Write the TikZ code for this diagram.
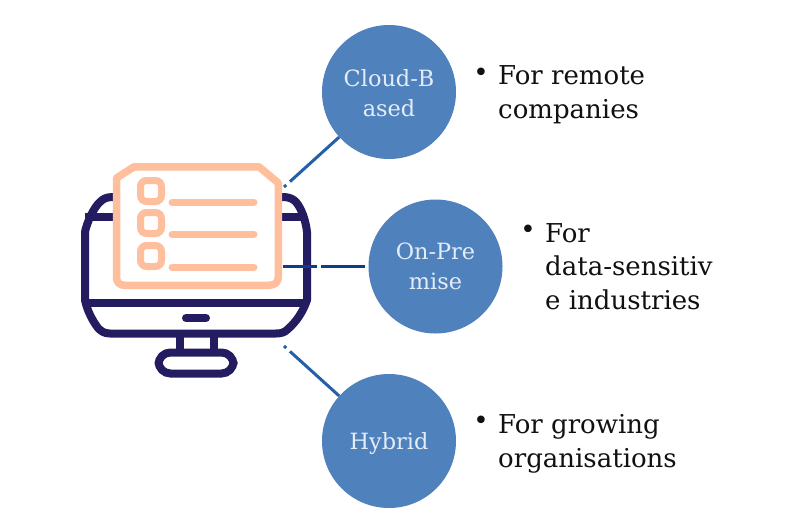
\documentclass[tikz,border=0pt]{standalone}
\usepackage{fontspec}
\setmainfont{DejaVu Serif}
\definecolor{circ}{HTML}{4F81BD}
\definecolor{circtxt}{HTML}{E4EDF7}
\definecolor{navy}{HTML}{241C60}
\definecolor{peach}{HTML}{FFBF9C}
\definecolor{linkA}{HTML}{2460A8}
\definecolor{linkB}{HTML}{103C8C}
\definecolor{ink}{HTML}{111111}
\tikzset{
  x=1pt,y=-1pt,
  topic/.style={circle,fill=circ,draw=none,minimum size=134pt,inner sep=0pt},
  topictext/.style={text=circtxt,font=\fontsize{22.4}{30}\selectfont,align=center,anchor=base},
  desc/.style={text=ink,font=\fontsize{26}{33.3}\selectfont,align=left,anchor=base west,inner sep=0pt},
  bul/.style={text=ink,font=\fontsize{26}{33}\selectfont,anchor=center,inner sep=0pt},
  link/.style={line width=3pt},
  mon/.style={draw=navy,line width=8pt,line join=round,line cap=round},
  pap/.style={draw=peach,line width=7.5pt,line join=round},
  row/.style={draw=peach,line width=7pt,line cap=round},
  chk/.style={draw=peach,line width=7pt,fill=white,rounded corners=6pt,minimum size=21pt,inner sep=0pt,shape=rectangle}
}
\begin{document}
\begin{tikzpicture}
\useasboundingbox (0,0) rectangle (800,523);
\fill[white] (0,0) rectangle (800,523);
% monitor
\draw[mon] (85,300) -- (85,232) .. controls (87,222) and (94,207) .. (100,202) .. controls (103,199) and (106,197) .. (113,197) -- (282,197) .. controls (290,197) and (293,199) .. (296,202) .. controls (302,209) and (306,222) .. (307,232) -- (307,300) .. controls (303,312) and (296,322) .. (288,329) .. controls (285,332) and (282,333.5) .. (276,333.5) -- (110,333.5) .. controls (104,333.5) and (101,331) .. (98,328) .. controls (92,320) and (87,310) .. (85,300) -- cycle;
\draw[mon,line cap=butt] (85,216.5) -- (307,216.5);
\draw[mon,line cap=butt] (85,303) -- (307,303);
\draw[mon] (186,318) -- (206,318);
\draw[mon,line cap=butt] (179.5,333) -- (179.5,352);
\draw[mon,line cap=butt] (214,333) -- (214,352);
\node[draw=navy,line width=8pt,rounded corners=12pt,minimum width=75pt,minimum height=21pt,inner sep=0pt] (foot) at (196,363) {};
% paper
\draw[pap,fill=white] (116.5,178) -- (134,166.8) -- (259,166.8) -- (278.3,183) -- (278.3,276) .. controls (278.3,283) and (275,285.3) .. (268,285.3) -- (126,285.3) .. controls (119,285.3) and (116.5,283) .. (116.5,276) -- cycle;
\foreach \n/\yb/\yl in {a/191/202,b/223/234,c/256/267}{
  \node[chk] (chk\n) at (151,\yb) {};
  \coordinate (rs\n) at (172,\yl);
  \coordinate (re\n) at (254,\yl);
  \draw[row] (rs\n) -- (re\n);
}
% topics
\node[topic] (cloud) at (389,92) {};
\node[topic] (prem) at (435.5,266.5) {};
\node[topic] (hybrid) at (389,441) {};
\coordinate (la) at (284,187);
\coordinate (lb) at (283,266.5);
\coordinate (lc) at (284,346);
\draw[link,draw=linkA,dash pattern=on 3pt off 5pt on 200pt] (la) -- (cloud);
\draw[link,draw=linkB,dash pattern=on 34pt off 4pt on 44pt off 300pt] (lb) -- (prem);
\draw[link,draw=linkA,dash pattern=on 3pt off 5pt on 200pt] (lc) -- (hybrid);
% labels
\node[topictext] (tcloud) at (389,116) {Cloud-B\\ased};
\node[topictext] (tprem) at (435.5,289) {On-Pre\\mise};
\node[topictext] (thyb) at (389,449) {Hybrid};
\node[bul] (ba) at (481,75) {•};
\node[desc] (da) at (498,118) {For remote\\companies};
\node[bul] (bb) at (528,232) {•};
\node[desc] (db) at (545,309) {For\\data-sensitiv\\e industries};
\node[bul] (bc) at (481,423) {•};
\node[desc] (dc) at (498,467) {For growing\\organisations};
\end{tikzpicture}
\end{document}
